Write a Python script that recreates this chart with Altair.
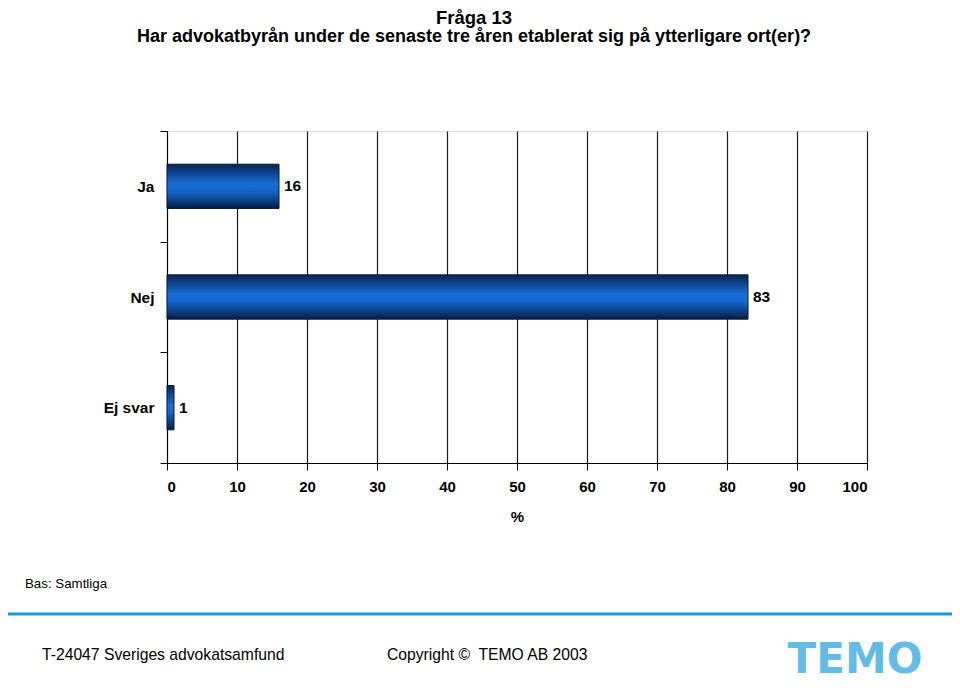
import altair as alt
import pandas as pd

# ---- data ----
categories = ["Ja", "Nej", "Ej svar"]
values = [16, 83, 1]
x_ticks = [0, 10, 20, 30, 40, 50, 60, 70, 80, 90, 100]

title_main = "Fråga 13"
title_sub = "Har advokatbyrån under de senaste tre åren etablerat sig på ytterligare ort(er)?"
base_note = "Bas: Samtliga"
footer_left = "T-24047 Sveriges advokatsamfund"
footer_mid = "Copyright ©\u00a0 TEMO AB 2003"
logo_text = "TEMO"

FONT = "Liberation Sans"

df = pd.DataFrame({"cat": categories, "val": values})

y_enc = alt.Y(
    "cat:N",
    sort=categories,
    title=None,
    scale=alt.Scale(paddingInner=0, paddingOuter=0),
    axis=alt.Axis(
        tickBand="extent",
        tickSize=7,
        tickColor="black",
        domainColor="black",
        labelFont=FONT,
        labelFontSize=15.5,
        labelFontWeight="bold",
        labelColor="black",
        labelPadding=6,
        grid=False,
    ),
)
x_enc = alt.X(
    "val:Q",
    title="%",
    scale=alt.Scale(domain=[0, 100], nice=False),
    axis=alt.Axis(
        values=x_ticks,
        tickSize=7,
        tickColor="black",
        domainColor="black",
        grid=True,
        gridColor="#1a1a1a",
        gridWidth=1.2,
        labelFont=FONT,
        labelFontSize=15,
        labelFontWeight="bold",
        labelColor="black",
        labelPadding=9,
        titleFont=FONT,
        titleFontSize=15,
        titleFontWeight="bold",
        titleColor="black",
        titlePadding=15,
    ),
)

grad = alt.Gradient(
    gradient="linear",
    x1=0, y1=0, x2=0, y2=1,
    stops=[
        alt.GradientStop(color="#08234d", offset=0),
        alt.GradientStop(color="#0d4590", offset=0.2),
        alt.GradientStop(color="#1a6fd6", offset=0.45),
        alt.GradientStop(color="#1666cc", offset=0.6),
        alt.GradientStop(color="#0d4590", offset=0.8),
        alt.GradientStop(color="#061c40", offset=1),
    ],
)

bars = alt.Chart(df).mark_bar(
    color=grad,
    stroke="#061a36",
    strokeWidth=1,
    height=alt.RelativeBandSize(0.4),
).encode(x=x_enc, y=y_enc)

labels = alt.Chart(df).mark_text(
    align="left", baseline="middle", dx=5,
    font=FONT, fontSize=15.5, fontWeight="bold", color="black",
).encode(x="val:Q", y=alt.Y("cat:N", sort=categories), text="val:Q")

one = alt.Data(values=[{"a": 1}])

def txt(s, x, y, size, weight="normal", align="center", color="black", font=FONT, opacity=1):
    return alt.Chart(one).mark_text(
        text=s, align=align, baseline="middle", font=font,
        fontSize=size, fontWeight=weight, color=color, opacity=opacity,
    ).encode(x=alt.value(x), y=alt.value(y))

t1 = txt(title_main, 307, -113, 18.5, "bold")
t2 = txt(title_sub, 307, -94, 18, "bold")
t3 = txt(base_note, -142, 453, 13.3, align="left")
t4 = txt(footer_left, -125, 524, 15.7, align="left")
t5 = txt(footer_mid, 220, 524, 15.7, align="left")
t6 = txt(logo_text, 688, 529, 42, "bold", color="#4ab0e0", font="DejaVu Sans", opacity=0.85)

rule = alt.Chart(one).mark_rule(color="#1a9bcb", strokeWidth=3).encode(
    x=alt.value(-167), x2=alt.value(789), y=alt.value(483)
)

chart = alt.layer(bars, labels, t1, t2, t3, t4, t5, t6, rule).properties(
    width=700,
    height=332,
    autosize=alt.AutoSizeParams(type="none"),
    padding={"left": 159, "top": 123, "right": 85, "bottom": 221},
).configure_view(stroke="black", strokeWidth=1.2).configure(background="white")

chart.save("out.html", embed_options={"renderer": "svg", "actions": False})
